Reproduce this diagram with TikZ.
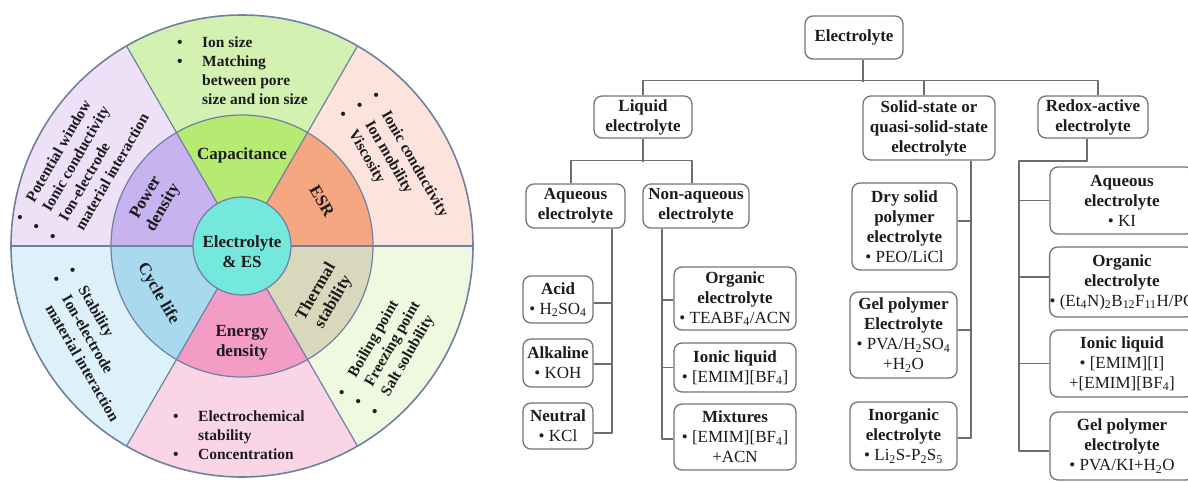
\documentclass[tikz,border=0pt]{standalone}
\usepackage{fontspec}
\setmainfont{Liberation Serif}
\definecolor{capO}{HTML}{D3F2B2}
\definecolor{capI}{HTML}{B6EA72}
\definecolor{esrO}{HTML}{FCE3DC}
\definecolor{esrI}{HTML}{F6A680}
\definecolor{thO}{HTML}{EFF9E0}
\definecolor{thI}{HTML}{DAD8BC}
\definecolor{enO}{HTML}{F9D5E6}
\definecolor{enI}{HTML}{F29CC6}
\definecolor{cyO}{HTML}{DDF1FA}
\definecolor{cyI}{HTML}{A8D9EE}
\definecolor{poO}{HTML}{EEE1F7}
\definecolor{poI}{HTML}{C7B3EF}
\definecolor{ctr}{HTML}{74E8DC}
\definecolor{wl}{HTML}{6F80A0}
\definecolor{txt}{HTML}{1C1C1C}
\definecolor{boxc}{HTML}{747474}
\definecolor{linec}{HTML}{6E6E6E}
\newcommand{\wbul}{\makebox[22pt][l]{\textbullet}}
\newcommand{\hbul}{\makebox[25pt][l]{\textbullet}}
\newcommand{\hb}[1]{\textbf{#1}}
\newcommand{\sbs}[1]{\textsubscript{#1}}
\begin{document}
\begin{tikzpicture}[x=1pt,y=1pt,line join=round,
  wline/.style={draw=wl,line width=1.2pt},
  wo/.style={font=\fontsize{15.5}{19}\selectfont\bfseries,text=txt,align=left,inner sep=0pt},
  wi/.style={font=\fontsize{17}{20}\selectfont\bfseries,text=txt,align=center,inner sep=0pt},
  tbox/.style={draw=boxc,line width=1.3pt,rounded corners=8pt,fill=white,align=center,inner sep=1pt,text=txt,font=\fontsize{17}{20}\selectfont},
  conn/.style={draw=linec,line width=1.3pt}]
\useasboundingbox (0,0) rectangle (1188,-482);
\clip (0,0) rectangle (1188,-482);
\fill[white] (0,0) rectangle (1188,-482);

% ---------------- wheel ----------------
\coordinate (C) at (242,-246);
\foreach \a/\b/\co/\ci in {60/120/capO/capI,0/60/esrO/esrI,-60/0/thO/thI,-120/-60/enO/enI,-180/-120/cyO/cyI,120/180/poO/poI}{
  \fill[\co] (C) -- ++(\a:231) arc[start angle=\a,end angle=\b,radius=231] -- cycle;
  \fill[\ci] (C) -- ++(\a:131) arc[start angle=\a,end angle=\b,radius=131] -- cycle;
}
\foreach \a in {0,60,...,300}{
  \draw[wline] (C) ++(\a:49) -- ++(\a:182);
}
\draw[wline] (C) circle[radius=131];
\draw[wline,line width=1.6pt] (C) circle[radius=231];
\draw[wline,fill=ctr] (C) circle[radius=49];

% inner ring labels
\node[wi] (ctrt) at (242,-252) {Electrolyte\\\& ES};
\node[wi] (cap) at (242,-155) {Capacitance};
\node[wi,rotate=-60] (esr) at (322,-201) {ESR};
\node[wi,rotate=60] (thm) at (325,-297) {Thermal\\stability};
\node[wi] (ene) at (242,-343) {Energy\\density};
\node[wi,rotate=-60] (cyc) at (158,-294) {Cycle life};
\node[wi,rotate=60] (pow) at (155,-203) {Power\\density};

% outer ring texts
\node[wo,anchor=west] (capt) at (177,-71) {\hbul Ion size\\\hbul Matching\\\hspace*{25pt}between pore\\\hspace*{25pt}size and ion size};
\node[wo,rotate=-60,anchor=west] (esrt) at (357,-103) {\wbul Ionic conductivity\\\wbul Ion mobility\\\wbul Viscosity};
\node[wo,rotate=60,anchor=west] (tht) at (358,-405) {\wbul Boiling point\\\wbul Freezing point\\\wbul Salt solubility};
\node[wo,anchor=west] (ent) at (173,-435) {\hbul Electrochemical\\\hspace*{25pt}stability\\\hbul Concentration};
\node[wo,rotate=-60,anchor=west] (cyt) at (55,-277) {\wbul Stability\\\wbul Ion-electrode\\\hspace*{22pt}material interaction};
\node[wo,rotate=60,anchor=west] (pot) at (43,-234) {\wbul Potential window\\\wbul Ionic conductivity\\\wbul Ion-electrode\\\hspace*{22pt}material interaction};

% ---------------- tree ----------------
\node[tbox,minimum width=98pt,minimum height=43pt] (el) at (854,-37.5) {\hb{Electrolyte}};
\node[tbox,minimum width=98pt,minimum height=42pt] (liq) at (643,-117) {\hb{Liquid}\\\hb{electrolyte}};
\node[tbox,minimum width=132pt,minimum height=64pt] (sol) at (929,-128) {\hb{Solid-state or}\\\hb{quasi-solid-state}\\\hb{electrolyte}};
\node[tbox,minimum width=110pt,minimum height=42pt] (red) at (1093,-117) {\hb{Redox-active}\\\hb{electrolyte}};

\node[tbox,minimum width=99pt,minimum height=44pt] (aq) at (575.5,-206) {\hb{Aqueous}\\\hb{electrolyte}};
\node[tbox,minimum width=106pt,minimum height=44pt] (naq) at (696,-206) {\hb{Non-aqueous}\\\hb{electrolyte}};

\node[tbox,minimum width=70pt,minimum height=47pt] (acid) at (558,-299.5) {\hb{Acid}\\\textbullet\ H\sbs{2}SO\sbs{4}};
\node[tbox,minimum width=70pt,minimum height=48pt] (alk) at (558,-363) {\hb{Alkaline}\\\textbullet\ KOH};
\node[tbox,minimum width=70pt,minimum height=46pt] (neu) at (558,-426) {\hb{Neutral}\\\textbullet\ KCl};

\node[tbox,minimum width=122pt,minimum height=63pt] (org) at (735,-298.5) {\hb{Organic}\\\hb{electrolyte}\\\textbullet\ TEABF\sbs{4}/ACN};
\node[tbox,minimum width=122pt,minimum height=49pt] (il) at (735,-367.5) {\hb{Ionic liquid}\\\textbullet\ [EMIM][BF\sbs{4}]};
\node[tbox,minimum width=122pt,minimum height=66pt] (mix) at (735,-437) {\hb{Mixtures}\\\textbullet\ [EMIM][BF\sbs{4}]\\+ACN};

\node[tbox,minimum width=105pt,minimum height=87pt] (dry) at (904.5,-226.5) {\hb{Dry solid}\\\hb{polymer}\\\hb{electrolyte}\\\textbullet\ PEO/LiCl};
\node[tbox,minimum width=107pt,minimum height=86pt] (gel) at (903.5,-335) {\hb{Gel polymer}\\\hb{Electrolyte}\\\textbullet\ PVA/H\sbs{2}SO\sbs{4}\\+H\sbs{2}O};
\node[tbox,minimum width=107pt,minimum height=68pt] (ino) at (903.5,-436) {\hb{Inorganic}\\\hb{electrolyte}\\\textbullet\ Li\sbs{2}S-P\sbs{2}S\sbs{5}};

\node[tbox,minimum width=144pt,minimum height=67pt] (raq) at (1122,-200.5) {\hb{Aqueous}\\\hb{electrolyte}\\\textbullet\ KI};
\node[tbox,minimum width=144pt,minimum height=70pt,inner xsep=0pt] (rorg) at (1122,-282) {\hb{Organic}\\\hb{electrolyte}\\\textbullet\ (Et\sbs{4}N)\sbs{2}B\sbs{12}F\sbs{11}H/PC};
\node[tbox,minimum width=144pt,minimum height=67pt] (ril) at (1122,-363.5) {\hb{Ionic liquid}\\\textbullet\ [EMIM][I]\\+[EMIM][BF\sbs{4}]};
\node[tbox,minimum width=144pt,minimum height=68pt] (rgel) at (1122,-446) {\hb{Gel polymer}\\\hb{electrolyte}\\\textbullet\ PVA/KI+H\sbs{2}O};

% connectors
\draw[conn] ([xshift=9pt]el.south) -- ++(0,-22);
\draw[conn] (liq.north) -- ++(0,15) -| ([xshift=5pt]red.north);
\draw[conn] ([xshift=-5pt]sol.north) -- ++(0,15);

\draw[conn] (liq.south) -- ++(0,-23);
\draw[conn] ([xshift=-4.5pt]aq.north) -- ++(0,23) -| ([xshift=-4pt]naq.north);

\draw[conn] ([xshift=36.5pt]aq.south) |- ([yshift=-7pt]neu.east);
\draw[conn] ([yshift=-3.5pt]acid.east) -- ++(19,0);
\draw[conn] ([yshift=-1pt]alk.east) -- ++(19,0);

\draw[conn] ([xshift=-34pt]naq.south) |- ([yshift=-2pt]mix.west);
\draw[conn] ([yshift=-1.5pt]org.west) -- ++(-12,0);
\draw[conn] (il.west) -- ++(-12,0);

\draw[conn] ([xshift=42pt]sol.south) |- ([yshift=-2pt]ino.east);
\draw[conn] ([yshift=5.5pt]dry.east) -- ++(14,0);
\draw[conn] ([yshift=5pt]gel.east) -- ++(14,0);

\coordinate (rv) at (1019,-161);
\draw[conn] ([xshift=-6pt]red.south) |- (rv) |- ([yshift=-5pt]rgel.west);
\draw[conn] (raq.west) -- ++(-31,0);
\draw[conn] ([yshift=5pt]rorg.west) -- ++(-31,0);
\draw[conn] (ril.west) -- ++(-31,0);
\end{tikzpicture}
\end{document}
